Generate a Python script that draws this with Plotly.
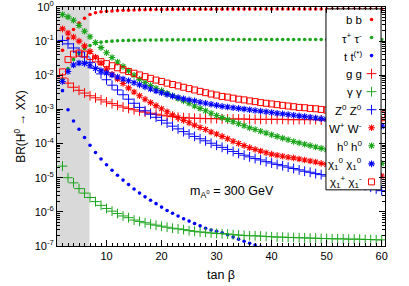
import plotly.graph_objects as go

# ---------------- data (log10 of branching ratio) -------------
tan_beta = list(range(2, 61))

log_bb = [-1.27, -0.92, -0.66, -0.47, -0.33, -0.22, -0.17, -0.14, -0.125, -0.115,
          -0.105, -0.097, -0.092, -0.087, -0.083, -0.080, -0.077, -0.075, -0.073, -0.071,
          -0.070, -0.069, -0.068, -0.067, -0.066, -0.065, -0.064, -0.064, -0.063, -0.063,
          -0.062, -0.062, -0.062, -0.061, -0.061, -0.061, -0.060, -0.060, -0.060, -0.060,
          -0.059, -0.059, -0.059, -0.059, -0.059, -0.058, -0.058, -0.058, -0.058, -0.058,
          -0.058, -0.058, -0.057, -0.057, -0.057, -0.057, -0.057, -0.057, -0.057]
log_tautau = [-2.12, -1.80, -1.54, -1.36, -1.22, -1.13, -1.06, -1.03, -1.01, -1.00,
              -0.99, -0.983, -0.978, -0.975, -0.972, -0.969, -0.967, -0.965, -0.963, -0.962,
              -0.961, -0.960, -0.959, -0.958, -0.957, -0.957, -0.956, -0.956, -0.955, -0.955,
              -0.955, -0.954, -0.954, -0.954, -0.953, -0.953, -0.953, -0.953, -0.952, -0.952,
              -0.952, -0.952, -0.952, -0.951, -0.951, -0.951, -0.951, -0.951, -0.951, -0.950,
              -0.950, -0.950, -0.950, -0.950, -0.950, -0.950, -0.950, -0.950, -0.950]
log_tt = [-2.45, -3.01, -3.34, -3.58, -3.82, -4.05, -4.26, -4.45, -4.62, -4.78,
          -4.93, -5.07, -5.20, -5.33, -5.45, -5.56, -5.66, -5.76, -5.86, -5.96,
          -6.04, -6.12, -6.20, -6.27, -6.34, -6.41, -6.48, -6.53, -6.57, -6.61,
          -6.67, -6.74, -6.80, -6.86, -6.92, -6.97, -7.03, None, None, None,
          None, None, None, None, None, None, None, None, None, None,
          None, None, None, None, None, None, None, None, None]
log_gg = [-2.08, -2.23, -2.35, -2.44, -2.52, -2.60, -2.66, -2.72, -2.78, -2.83,
          -2.88, -2.93, -2.97, -3.01, -3.05, -3.08, -3.11, -3.14, -3.17, -3.19,
          -3.21, -3.23, -3.24, -3.25, -3.26, -3.26, -3.27, -3.27, -3.27, -3.28,
          -3.28, -3.28, -3.28, -3.28, -3.29, -3.29, -3.29, -3.29, -3.29, -3.29,
          -3.29, -3.30, -3.30, -3.30, -3.30, -3.30, -3.30, -3.31, -3.31, -3.31,
          -3.31, -3.31, -3.32, -3.32, -3.32, -3.32, -3.33, -3.33, -3.33]
log_gamgam = [-4.66, -5.00, -5.15, -5.32, -5.45, -5.58, -5.70, -5.81, -5.90, -5.98,
              -6.05, -6.12, -6.17, -6.24, -6.28, -6.32, -6.36, -6.39, -6.42, -6.45,
              -6.48, -6.50, -6.52, -6.55, -6.57, -6.59, -6.60, -6.62, -6.63, -6.64,
              -6.65, -6.67, -6.68, -6.69, -6.70, -6.70, -6.71, -6.72, -6.73, -6.74,
              -6.74, -6.75, -6.75, -6.76, -6.76, -6.77, -6.77, -6.78, -6.78, -6.79,
              -6.79, -6.79, -6.80, -6.80, -6.80, -6.81, -6.81, -6.82, -6.82]
log_ZZ = [-0.98, -1.08, -1.20, -1.32, -1.46, -1.62, -1.79, -1.96, -2.13, -2.29,
          -2.43, -2.57, -2.70, -2.82, -2.94, -3.04, -3.14, -3.23, -3.32, -3.40,
          -3.49, -3.57, -3.65, -3.72, -3.79, -3.86, -3.92, -3.99, -4.05, -4.11,
          -4.17, -4.23, -4.29, -4.34, -4.39, -4.44, -4.48, -4.53, -4.57, -4.61,
          -4.65, -4.69, -4.73, -4.77, -4.81, -4.84, -4.88, -4.91, -4.95, -4.99,
          -5.03, -5.07, -5.11, -5.15, -5.19, -5.23, -5.28, -5.33, -5.38]
log_WW = [-0.64, -0.76, -0.88, -1.00, -1.14, -1.30, -1.47, -1.64, -1.82, -1.97,
          -2.11, -2.24, -2.37, -2.49, -2.60, -2.70, -2.80, -2.89, -2.98, -3.07,
          -3.16, -3.24, -3.32, -3.39, -3.46, -3.53, -3.59, -3.66, -3.72, -3.79,
          -3.86, -3.93, -4.00, -4.06, -4.12, -4.17, -4.22, -4.27, -4.31, -4.34,
          -4.37, -4.40, -4.42, -4.45, -4.48, -4.51, -4.54, -4.58, -4.61, -4.65,
          -4.68, -4.71, -4.74, -4.77, -4.80, -4.84, -4.87, -4.91, -4.95]
log_hh = [-0.22, -0.29, -0.39, -0.54, -0.71, -0.87, -1.04, -1.19, -1.34, -1.48,
          -1.61, -1.74, -1.87, -2.00, -2.12, -2.21, -2.30, -2.38, -2.45, -2.53,
          -2.60, -2.68, -2.75, -2.82, -2.90, -2.97, -3.04, -3.11, -3.18, -3.24,
          -3.30, -3.36, -3.42, -3.48, -3.54, -3.59, -3.64, -3.69, -3.74, -3.79,
          -3.84, -3.89, -3.94, -3.98, -4.02, -4.06, -4.10, -4.14, -4.18, -4.22,
          -4.26, -4.30, -4.34, -4.38, -4.42, -4.46, -4.50, -4.54, -4.58]
log_chi0chi0 = [-2.18, -1.89, -1.70, -1.64, -1.65, -1.72, -1.80, -1.87, -1.93, -1.99,
                -2.05, -2.11, -2.16, -2.22, -2.28, -2.34, -2.40, -2.46, -2.51, -2.56,
                -2.61, -2.65, -2.69, -2.72, -2.75, -2.79, -2.82, -2.85, -2.88, -2.91,
                -2.93, -2.95, -2.97, -2.99, -3.01, -3.03, -3.05, -3.07, -3.09, -3.11,
                -3.13, -3.15, -3.17, -3.19, -3.21, -3.23, -3.25, -3.27, -3.29, -3.31,
                -3.33, -3.35, -3.37, -3.39, -3.41, -3.43, -3.45, -3.47, -3.49]
log_chipchim = [-1.90, -1.54, -1.38, -1.35, -1.38, -1.45, -1.52, -1.60, -1.66, -1.72,
                -1.78, -1.84, -1.89, -1.94, -1.99, -2.04, -2.09, -2.14, -2.18, -2.23,
                -2.27, -2.31, -2.35, -2.39, -2.43, -2.47, -2.51, -2.55, -2.58, -2.62,
                -2.64, -2.67, -2.70, -2.72, -2.75, -2.77, -2.80, -2.82, -2.84, -2.86,
                -2.88, -2.90, -2.92, -2.94, -2.95, -2.97, -2.98, -3.00, -3.02, -3.03,
                -3.05, -3.06, -3.08, -3.09, -3.11, -3.12, -3.13, -3.15, -3.16]

labels = ["b b", "τ<sup>+</sup> τ<sup>-</sup>", "t t<sup>(*)</sup>", "g g", "γ γ",
          "Z<sup>0</sup> Z<sup>0</sup>", "W<sup>+</sup> W<sup>-</sup>", "h<sup>0</sup> h<sup>0</sup>",
          "χ<sub>1</sub><sup>0</sup> χ<sub>1</sub><sup>0</sup>",
          "χ<sub>1</sub><sup>+</sup> χ<sub>1</sub><sup>-</sup>"]
series = [log_bb, log_tautau, log_tt, log_gg, log_gamgam, log_ZZ, log_WW, log_hh,
          log_chi0chi0, log_chipchim]

excluded_tanb = [1, 6.9]
y_tick_exponents = [0, -1, -2, -3, -4, -5, -6, -7]
x_ticks = [10, 20, 30, 40, 50, 60]

# ---------------- styles -------------
RED, GREEN, BLUE = "#ff0000", "#1aa51a", "#0000ff"


def style(color, kind):
    if kind == "dot":
        return dict(color=color, symbol="circle", size=3.6, line=dict(width=0))
    if kind == "plus":
        return dict(color=color, symbol="cross-thin-open", size=7,
                    line=dict(width=1, color=color))
    if kind == "star":
        return dict(color=color, symbol="asterisk-open", size=5.5,
                    line=dict(width=1.1, color=color))
    return dict(color=color, symbol="square-open", size=6, line=dict(width=1, color=color))


styles = [style(RED, "dot"), style(GREEN, "dot"), style(BLUE, "dot"),
          style(RED, "plus"), style(GREEN, "plus"), style(BLUE, "plus"),
          style(RED, "star"), style(GREEN, "star"), style(BLUE, "star"),
          style(RED, "square")]

fig = go.Figure()
for vals, lab, st in zip(series, labels, styles):
    xs = [t for t, v in zip(tan_beta, vals) if v is not None]
    ys = [10 ** v for v in vals if v is not None]
    fig.add_trace(go.Scatter(x=xs, y=ys, mode="markers", marker=st, name=lab,
                             showlegend=False, cliponaxis=True))

# excluded region
fig.add_vrect(x0=excluded_tanb[0], x1=excluded_tanb[1], fillcolor="#d9d9d9",
              line_width=0, layer="below")

# ---------------- manual gnuplot-style legend (text right-aligned, key on the right) ------
leg_x0, leg_x1, leg_y0, leg_y1 = 0.82, 0.988, 0.235, 0.992
fig.add_trace(go.Scatter(x=[leg_x0, leg_x1, leg_x1, leg_x0, leg_x0],
                         y=[leg_y0, leg_y0, leg_y1, leg_y1, leg_y0],
                         xaxis="x2", yaxis="y2", mode="lines", fill="toself",
                         fillcolor="white", line=dict(color="black", width=1),
                         hoverinfo="skip", showlegend=False))
row_h = 18 / 238.5
key_y = [1 - (20 - 7.5) / 238.5 - i * row_h for i in range(len(labels))]
for st, lab, ky in zip(styles, labels, key_y):
    fig.add_trace(go.Scatter(x=[0.959], y=[ky], xaxis="x2", yaxis="y2",
                             mode="markers", marker=st, showlegend=False,
                             hoverinfo="skip"))
    fig.add_annotation(x=0.935, y=ky, xref="paper", yref="paper", text=lab,
                       showarrow=False, xanchor="right", yanchor="middle",
                       font=dict(size=11.5))

fig.add_annotation(x=24.8, y=-5.42, xref="x", yref="y",
                   text="m<sub>A<sup>0</sup></sub> = 300 GeV",
                   showarrow=False, xanchor="left", yanchor="middle", font=dict(size=12.5))

axis_common = dict(showline=True, linecolor="black", linewidth=1, mirror="ticks",
                   ticks="inside", tickcolor="black", showgrid=False, zeroline=False,
                   automargin=False, ticklabeloverflow="allow")
minor_y = [m * 10 ** e for e in range(-7, 0) for m in range(2, 10)]
fig.update_layout(
    width=409, height=286,
    margin=dict(l=57, r=24, t=7, b=40),
    paper_bgcolor="white", plot_bgcolor="white",
    font=dict(family="Liberation Sans, Arial, sans-serif", size=11, color="black"),
    xaxis=dict(range=[1, 60.6], tickvals=x_ticks, ticklen=6,
               minor=dict(dtick=1, tick0=0, ticks="inside", ticklen=3, tickcolor="black"),
               title=dict(text="tan β", font=dict(size=12.5), standoff=9), **axis_common),
    yaxis=dict(type="log", range=[-7, 0], tickvals=[10 ** e for e in y_tick_exponents],
               ticktext=["10<sup>%d</sup>" % e for e in y_tick_exponents], ticklen=6,
               minor=dict(tickvals=minor_y, ticks="inside", ticklen=3, tickcolor="black"),
               title=dict(text="BR(H<sup>0</sup> → XX)", font=dict(size=12), standoff=6),
               **axis_common),
    xaxis2=dict(overlaying="x", range=[0, 1], visible=False, fixedrange=True),
    yaxis2=dict(overlaying="y", range=[0, 1], visible=False, fixedrange=True),
    showlegend=False,
)

fig.write_html("out.html", config={"displayModeBar": False},
               post_script=("document.body.style.margin='0';document.body.style.padding='0';"
                            "document.body.style.overflow='hidden';"
                            "document.documentElement.style.overflow='hidden';"))
